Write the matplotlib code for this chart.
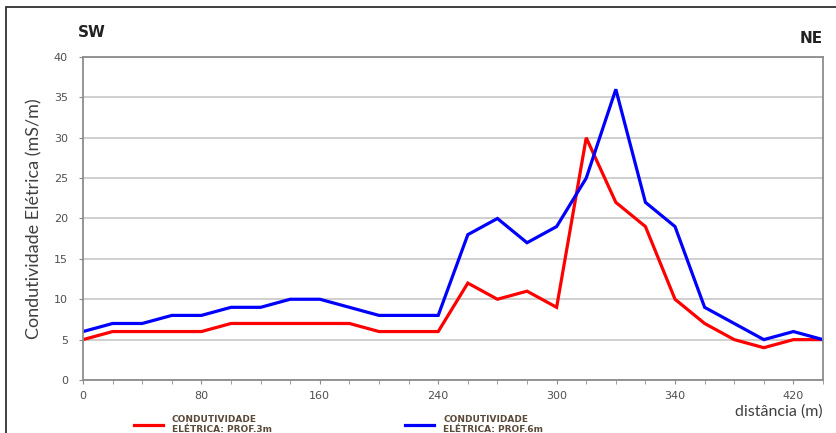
'''
    electrical conductivity profile SW-NE, two depths
'''
from matplotlib import pyplot as plt
from matplotlib.patches import Rectangle
import numpy as np

# distance of each reading along the profile (m)
distancia = [0, 20, 40, 60, 80, 100, 120, 140, 160, 180, 200, 220, 240,
             255, 270, 285, 300, 310, 320, 330, 340, 360, 380, 400, 420, 440]
# conductivity (mS/m) at 3 m and 6 m depth
prof_3m = [5, 6, 6, 6, 6, 7, 7, 7, 7, 7, 6, 6, 6,
           12, 10, 11, 9, 30, 22, 19, 10, 7, 5, 4, 5, 5]
prof_6m = [6, 7, 7, 8, 8, 9, 9, 10, 10, 9, 8, 8, 8,
           18, 20, 17, 19, 25, 36, 22, 19, 9, 7, 5, 6, 5]
y_ticks = [0, 5, 10, 15, 20, 25, 30, 35, 40]
label_step = 4

GRID = '#cccccc'
SPINE = '#8c8c8c'
TXT = '#404040'

fig = plt.figure(figsize=(8.37, 4.33), dpi=100)
ax = fig.add_axes([0.0992, 0.1224, 0.8841, 0.746])

idx = np.arange(len(distancia))
ax.plot(idx, prof_3m, color='#ff0000', lw=2.3, solid_joinstyle='miter',
        label='CONDUTIVIDADE\nELÉTRICA: PROF.3m')
ax.plot(idx, prof_6m, color='#0000ff', lw=2.3, solid_joinstyle='miter',
        label='CONDUTIVIDADE\nELÉTRICA: PROF.6m')

ax.set_xlim(0, len(distancia) - 1)
ax.set_ylim(0, 40)
ax.set_yticks(y_ticks)
ax.set_yticklabels([str(v) for v in y_ticks], fontsize=8, color='#505050')
ax.yaxis.grid(True, color=GRID, lw=1.3)
ax.set_axisbelow(True)

ax.set_xticks(idx[::label_step])
ax.set_xticklabels([str(distancia[i]) for i in idx[::label_step]],
                   fontsize=8, color='#505050')
ax.set_xticks(idx, minor=True)
ax.tick_params(axis='x', which='both', length=3, color=SPINE, pad=5)
ax.tick_params(axis='y', length=3, color=SPINE, pad=8)
for s in ax.spines.values():
    s.set_color(SPINE)
    s.set_linewidth(1.3)

ax.set_ylabel('Condutividade Elétrica (mS/m)', family='Lato', fontsize=13,
              color=TXT, labelpad=8)
fig.text(0.983, 0.05, 'distância (m)', family='Lato', fontsize=11.5,
         color=TXT, ha='right', va='center')

fig.text(0.093, 0.925, 'SW', fontsize=11, weight='bold', color='#222222',
         ha='left', va='center')
fig.text(0.983, 0.91, 'NE', fontsize=11, weight='bold', color='#222222',
         ha='right', va='center')

leg = fig.legend(loc='center left', bbox_to_anchor=(0.15, 0.02), ncol=2,
                 frameon=False, prop={'size': 6.5, 'weight': 'bold'},
                 handlelength=3.2, handletextpad=1.0, columnspacing=14.8)
for t in leg.get_texts():
    t.set_color('#5a4a3a')

# outer frame
fig.patches.append(Rectangle((6 / 837, -0.1), 1.2, 1.1 - 7 / 433,
                             transform=fig.transFigure, fill=False,
                             edgecolor='#303030', lw=1.3))

plt.savefig('out.png', dpi=100)
